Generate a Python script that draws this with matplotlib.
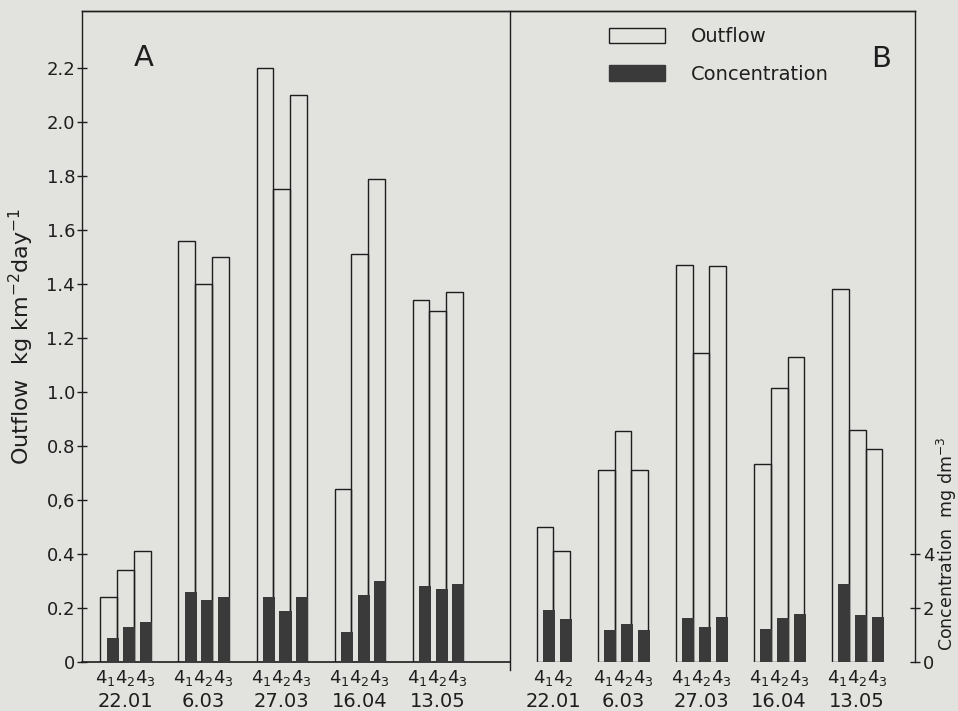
"""Outflow and concentration at stations 4_1..4_3, panels A and B."""

import matplotlib
matplotlib.use("Agg")
import matplotlib.pyplot as plt
from matplotlib.patches import Patch
from matplotlib.transforms import blended_transform_factory

# --- data ---
dates = ["22.01", "6.03", "27.03", "16.04", "13.05"]
stations_a = [r"$4_1 4_2 4_3$"] * 5
stations_b = [r"$4_1 4_2$"] + [r"$4_1 4_2 4_3$"] * 4

# outflow, kg km-2 day-1
outflow_a = [[0.24, 0.34, 0.41], [1.56, 1.40, 1.50], [2.20, 1.75, 2.10],
             [0.64, 1.51, 1.79], [1.34, 1.30, 1.37]]
outflow_b = [[0.50, 0.41], [0.71, 0.855, 0.71], [1.47, 1.145, 1.465],
             [0.735, 1.015, 1.13], [1.38, 0.86, 0.79]]

# concentration, mg dm-3
conc_a = [[0.9, 1.3, 1.5], [2.6, 2.3, 2.4], [2.4, 1.9, 2.4],
          [1.1, 2.5, 3.0], [2.8, 2.7, 2.9]]
conc_b = [[1.94, 1.60], [1.18, 1.39, 1.20], [1.62, 1.30, 1.65],
          [1.22, 1.62, 1.79], [2.89, 1.75, 1.65]]

outflow_ticks = [0, 0.2, 0.4, 0.6, 0.8, 1.0, 1.2, 1.4, 1.6, 1.8, 2.0, 2.2]
outflow_ticklabels = ["0", "0.2", "0.4", "0,6", "0.8", "1.0", "1.2", "1.4",
                      "1.6", "1.8", "2.0", "2.2"]
conc_ticks = [0, 2, 4]

# --- layout (x in bar widths) ---
BAR_W = 1.0
CONC_W = 0.72
CONC_SHIFT = 0.37
GROUP_STEP = 4.66
START_A = 1.1
START_B = 26.14
X_DIV = 25.55
X_MAX = 49.73
Y_MAX = 2.411

BG = "#e2e2df"
INK = "#1e1e1e"
DARK = "#3a3a3a"

plt.rcParams["font.family"] = ["DejaVu Sans"]
plt.rcParams["mathtext.fontset"] = "dejavusans"

fig = plt.figure(figsize=(9.58, 7.11), dpi=100, facecolor=BG)
ax = fig.add_axes([0.0856, 0.0689, 0.8695, 0.9156])
ax.set_facecolor(BG)
ax2 = ax.twinx()

ax.set_xlim(0, X_MAX)
ax.set_ylim(0, Y_MAX)
ax2.set_ylim(0, Y_MAX * 10)

trans = blended_transform_factory(ax.transData, ax.transAxes)


def draw_panel(start, outflow, conc, stations):
    for g, (of, cc) in enumerate(zip(outflow, conc)):
        n = len(of)
        left = start + g * GROUP_STEP + (3 - n) * BAR_W
        xs = [left + i * BAR_W for i in range(n)]
        ax.bar(xs, of, width=BAR_W, align="edge", facecolor="none",
               edgecolor=INK, linewidth=1.0, zorder=2)
        ax2.bar([x + CONC_SHIFT for x in xs], cc, width=CONC_W, align="edge",
                color=DARK, linewidth=0, zorder=3)
        centre = left + n * BAR_W / 2
        ax.text(centre, -0.024, stations[g], transform=trans, ha="center",
                va="center", fontsize=13, color=INK)
        ax.text(centre, -0.06, dates[g], transform=trans, ha="center",
                va="center", fontsize=14, color=INK)


draw_panel(START_A, outflow_a, conc_a, stations_a)
draw_panel(START_B, outflow_b, conc_b, stations_b)

# frame: top + left + right, baseline only under panel A, divider line
for a in (ax, ax2):
    a.spines["bottom"].set_visible(False)
    for s in a.spines.values():
        s.set_color(INK)
        s.set_linewidth(1.0)
ax.spines["right"].set_visible(False)
ax2.spines["left"].set_visible(False)
ax.axhline(0, xmax=X_DIV / X_MAX, color=INK, linewidth=1.2, zorder=4,
           clip_on=False)
ax.axvline(X_DIV, ymin=-0.012, color=INK, linewidth=1.0, clip_on=False)

ax.set_xticks([])
ax.set_yticks(outflow_ticks)
ax.set_yticklabels(outflow_ticklabels)
ax.tick_params(axis="y", direction="inout", length=7, width=1.0,
               labelsize=13, colors=INK, pad=1.5)
ax2.set_yticks(conc_ticks)
ax2.tick_params(axis="y", direction="inout", length=7, width=1.0,
                labelsize=13, colors=INK, pad=2)

ax.set_ylabel(r"Outflow  kg km$^{-2}$day$^{-1}$", fontsize=16, color=INK)
ax.yaxis.set_label_coords(-0.055, 0.5)
ax2.set_ylabel(r"Concentration  mg dm$^{-3}$", fontsize=12.5, color=INK)
ax2.yaxis.set_label_coords(1.0235, 0.181)

ax.text(0.074, 0.915, "A", transform=ax.transAxes, fontsize=21,
        ha="center", va="baseline", color=INK)
ax2.text(0.959, 0.914, "B", transform=ax.transAxes, fontsize=21,
         ha="center", va="baseline", color=INK)

handles = [Patch(facecolor=BG, edgecolor=INK, linewidth=1.0, label="Outflow"),
           Patch(facecolor=DARK, edgecolor=DARK, label="Concentration")]
ax2.legend(handles=handles, loc="upper left", bbox_to_anchor=(0.6327, 0.975),
           frameon=False, fontsize=14, handlelength=2.9, handleheight=0.85,
           handletextpad=1.3, labelspacing=0.95, borderpad=0, borderaxespad=0,
           labelcolor=INK)

fig.savefig("out.png", dpi=100, facecolor=BG)
